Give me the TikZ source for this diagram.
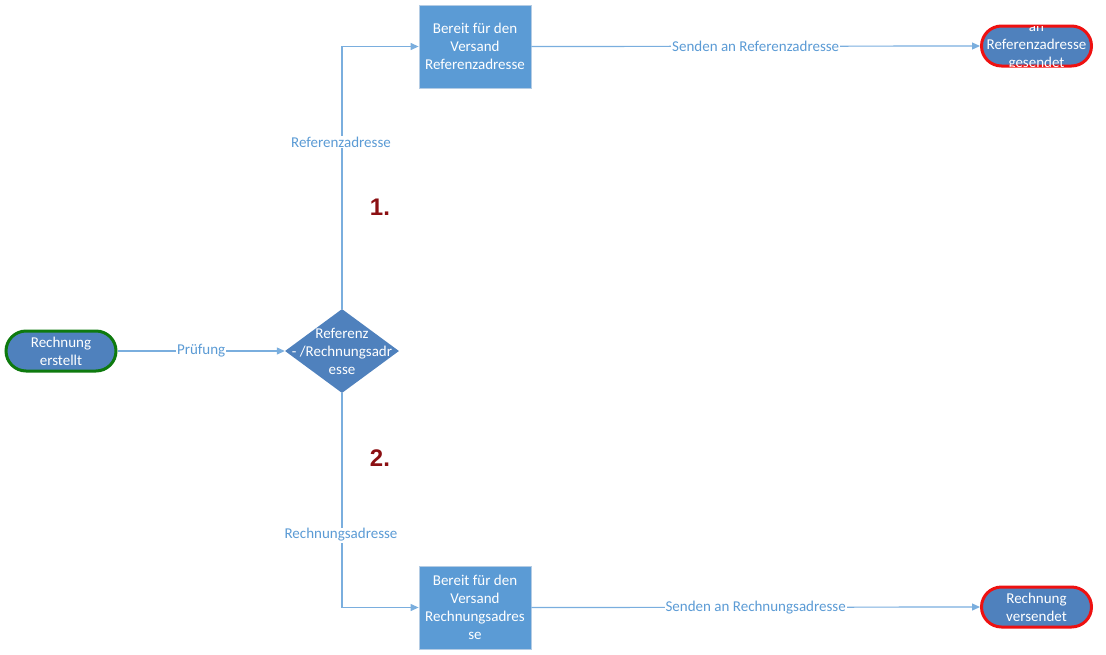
\documentclass[tikz,border=0pt]{standalone}
\usepackage{fontspec}
\setmainfont{Carlito}
\newfontfamily\numfont{Liberation Sans}
\usetikzlibrary{shapes.geometric,arrows.meta}
\definecolor{termfill}{HTML}{4F81BD}
\definecolor{boxfill}{HTML}{5B9BD5}
\definecolor{boxedge}{HTML}{B4CCE4}
\definecolor{linec}{HTML}{7AAEDE}
\definecolor{labc}{HTML}{5B9BD5}
\definecolor{greenb}{HTML}{0E7A0E}
\definecolor{redb}{HTML}{EE1111}
\definecolor{numc}{HTML}{8B0F12}
\tikzset{
  every node/.style={font=\fontsize{15pt}{18pt}\selectfont},
  term/.style={fill=termfill, line width=3pt, rounded corners=20pt, minimum width=110pt, minimum height=40pt, inner sep=0pt},
  stepbox/.style={fill=boxfill, draw=boxedge, line width=0.8pt, minimum width=112pt, minimum height=83pt, inner sep=0pt},
  dia/.style={diamond, fill=termfill, minimum width=114pt, minimum height=84pt, inner sep=0pt},
  wtext/.style={text=white, align=center, inner sep=0pt},
  conn/.style={draw=linec, line width=1.2pt, -{Triangle[width=7pt,length=8pt]}},
  lab/.style={text=labc, fill=white, inner sep=1pt},
  num/.style={text=numc, font=\numfont\bfseries\fontsize{24pt}{26pt}\selectfont}
}
\begin{document}
\begin{tikzpicture}[x=1pt,y=-1pt]
\useasboundingbox (0,0) rectangle (1106,654);
% nodes
\node[term, draw=greenb] (start) at (61,351) {};
\node[wtext] (starttxt) at (start) {Rechnung\\erstellt};
\node[dia] (dec) at (342,351) {};
\node[wtext] (dectxt) at (dec) {Referenz\\- /Rechnungsadr\\esse};
\node[stepbox] (top) at (475,46.5) {};
\node[wtext] (toptxt) at (top) {Bereit für den\\Versand\\Referenzadresse};
\node[stepbox] (bot) at (475,607.5) {};
\node[wtext] (bottxt) at (bot) {Bereit für den\\Versand\\Rechnungsadres\\se};
\node[term, draw=redb] (end1) at (1036.5,46) {};
\begin{scope}
  \clip[rounded corners=18pt] ([shift={(1.5pt,1.5pt)}]end1.south west) rectangle ([shift={(-1.5pt,-1.5pt)}]end1.north east);
  \node[wtext] (end1txt) at ([yshift=-1pt]end1.center) {an\\Referenzadresse\\gesendet};
\end{scope}
\node[term, draw=redb] (end2) at (1036.5,607) {};
\node[wtext] (end2txt) at (end2) {Rechnung\\versendet};
% connectors
\draw[conn] (start) -- node[lab] {Prüfung} (dec);
\coordinate (c1) at (dec.north |- top.west);
\coordinate (c2) at (dec.south |- bot.west);
\draw[conn] (dec.north) -- (c1) -- (top.west);
\draw[conn] (dec.south) -- (c2) -- (bot.west);
\node[lab] (l1) at (341,142) {Referenzadresse};
\node[lab] (l2) at (341,535) {Rechnungsadresse};
\draw[conn] (top.east) -- node[lab] {Senden an Referenzadresse} (end1.west);
\draw[conn] (bot.east) -- node[lab] {Senden an Rechnungsadresse} (end2.west);
\node[num] (n1) at (380,207) {1.};
\node[num] (n2) at (380,458) {2.};
\end{tikzpicture}
\end{document}
